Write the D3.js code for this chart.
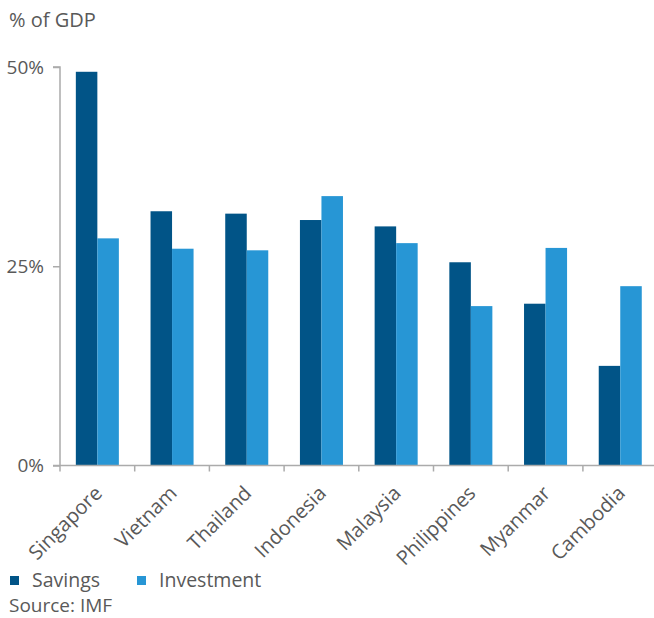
<!DOCTYPE html>
<html><head><meta charset="utf-8">
<script src="https://cdn.jsdelivr.net/npm/d3@7"></script>
<style>
body{margin:0;background:#fff;}
text{font-family:"Open Sans",sans-serif;fill:#595959;}
</style></head>
<body><svg id="c" width="654" height="618"></svg>
<script>
const categories = ["Singapore","Vietnam","Thailand","Indonesia","Malaysia","Philippines","Myanmar","Cambodia"];
const savings = [49.4, 31.9, 31.6, 30.8, 30.0, 25.5, 20.3, 12.5];
const investment = [28.5, 27.2, 27.0, 33.8, 27.9, 20.0, 27.3, 22.5];
const seriesNames = ["Savings","Investment"];
const seriesColors = ["#015487","#2796d5"];
const yTicks = [0, 25, 50];
const yTickLabels = ["0%","25%","50%"];

const svg = d3.select("#c");
const x0 = 60, x1 = 657.6, yBase = 465.5, yTop = 67;
const x = d3.scaleBand().domain(categories).range([x0, x1]).paddingInner(0.424).paddingOuter(0.212);
const xs = d3.scaleBand().domain(seriesNames).range([0, x.bandwidth()]);
const y = d3.scaleLinear().domain([0, 50]).range([yBase, yTop]);
const axisColor = "#ababab";

// bars
const data = categories.map((c,i)=>({c, vals:[savings[i], investment[i]]}));
const g = svg.append("g");
g.selectAll("g.cat").data(data).join("g").attr("transform", d=>`translate(${x(d.c)},0)`)
 .selectAll("rect").data(d=>d.vals.map((v,j)=>({v, s:seriesNames[j], j})))
 .join("rect")
 .attr("x", d=>xs(d.s)).attr("width", xs.bandwidth())
 .attr("y", d=>y(d.v)).attr("height", d=>yBase - y(d.v))
 .attr("fill", d=>seriesColors[d.j]);

// y axis
const ya = svg.append("g").attr("transform",`translate(${x0},0)`)
 .call(d3.axisLeft(y).tickValues(yTicks).tickFormat((d,i)=>yTickLabels[i]).tickSize(7).tickPadding(9));
ya.select(".domain").attr("stroke", axisColor).attr("stroke-width",1.5).attr("d",`M-7,${yTop}H0V${yBase}`);
ya.selectAll(".tick line").attr("stroke", axisColor).attr("stroke-width",1.5);
ya.selectAll(".tick text").style("font-size","19px").attr("fill","#595959").style("font-family",null);

// x axis
const xa = svg.append("g").attr("transform",`translate(0,${yBase})`);
xa.append("line").attr("x1",x0-7).attr("x2",654).attr("stroke",axisColor).attr("stroke-width",1.5);
const bounds = categories.map(c=>x(c)-x.step()*x.paddingInner()/2).concat([x1]);
xa.selectAll("line.t").data(bounds).join("line").attr("class","t")
 .attr("x1",d=>d).attr("x2",d=>d).attr("y1",0).attr("y2",6).attr("stroke",axisColor).attr("stroke-width",1.5);
xa.selectAll("text.lab").data(categories).join("text").attr("class","lab")
 .attr("text-anchor","end")
 .attr("transform", d=>`translate(${x(d)+x.bandwidth()/2+6},${29}) rotate(-45)`)
 .style("font-size","20px").text(d=>d);

// title
svg.append("text").attr("x",9).attr("y",27).style("font-size","20px").text("% of GDP");

// legend
const lg = svg.append("g").attr("transform","translate(10,587)");
const lx = [0, 127];
seriesNames.forEach((s,i)=>{
  lg.append("rect").attr("x",lx[i]).attr("y",-11).attr("width",9).attr("height",9).attr("fill",seriesColors[i]);
  lg.append("text").attr("x",lx[i]+22).attr("y",0).style("font-size","19.5px").text(s);
});
svg.append("text").attr("x",9).attr("y",612).style("font-size","19px").text("Source: IMF");
</script></body></html>
